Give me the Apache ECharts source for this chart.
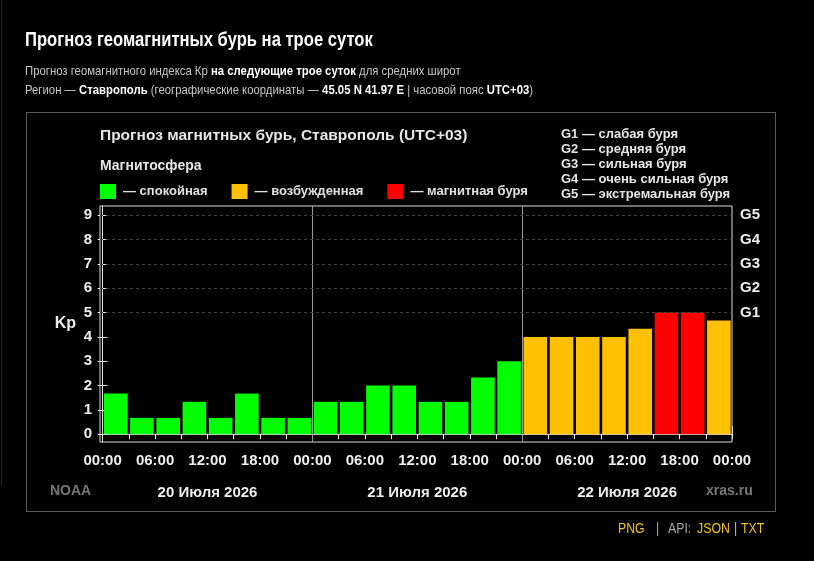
<!DOCTYPE html>
<html>
<head>
<meta charset="utf-8">
<script src="https://cdn.jsdelivr.net/npm/echarts@6/dist/echarts.min.js"></script>
<style>
  html, body { margin: 0; padding: 0; background: #000; }
  body { width: 814px; height: 561px; position: relative; overflow: hidden;
         font-family: "Liberation Sans", Arial, sans-serif; }
  #chart { position: absolute; left: 0; top: 0; width: 814px; height: 561px; }
  .abs { position: absolute; white-space: nowrap; transform-origin: 0 50%; }
  .h1 { left: 25px; top: 27px; font-size: 20px; line-height: 24px; font-weight: bold; color: #fff;
        transform: scaleX(0.83); }
  .sub { left: 25px; font-size: 13.5px; line-height: 16px; color: #c8c8c8; transform: scaleX(0.84); }
  .sub b { color: #fff; }
  .box { left: 26px; top: 112px; width: 748px; height: 398px; border: 1px solid #5a5a5a; }
  .foot { top: 520px; font-size: 14px; line-height: 16px; color: #aaa; transform: scaleX(0.88); }
  .gold { color: #f0c419; }
  .edge { left: 1px; top: 0; width: 1px; height: 486px; background: #262626; }
</style>
</head>
<body>
<div id="chart"></div>
<div class="abs edge"></div>
<div class="abs h1">Прогноз геомагнитных бурь на трое суток</div>
<div class="abs sub" style="top:63px">Прогноз геомагнитного индекса Кр <b>на следующие трое суток</b> для средних широт</div>
<div class="abs sub" style="top:82px">Регион — <b>Ставрополь</b> (географические координаты — <b>45.05 N 41.97 E</b> | часовой пояс <b>UTC+03</b>)</div>
<div class="abs box"></div>
<div class="abs foot gold" style="left:618px">PNG</div>
<div class="abs foot" style="left:656px">|</div>
<div class="abs foot" style="left:668px">API:</div>
<div class="abs foot gold" style="left:697px">JSON</div>
<div class="abs foot gold" style="left:734px">|</div>
<div class="abs foot gold" style="left:741px">TXT</div>
<script>
// прогноз Kp по трёхчасовым интервалам (3 суток * 8)
var kp = [1.67, 0.67, 0.67, 1.33, 0.67, 1.67, 0.67, 0.67,
          1.33, 1.33, 2.0, 2.0, 1.33, 1.33, 2.33, 3.0,
          4.0, 4.0, 4.0, 4.0, 4.33, 5.0, 5.0, 4.67];
var hourLabels = ['00:00', '06:00', '12:00', '18:00', '00:00', '06:00', '12:00',
                  '18:00', '00:00', '06:00', '12:00', '18:00', '00:00'];
var days = ['20 Июля 2026', '21 Июля 2026', '22 Июля 2026'];
var gLevels = ['G1', 'G2', 'G3', 'G4', 'G5'];
var gNotes = ['G1 — слабая буря', 'G2 — средняя буря', 'G3 — сильная буря',
              'G4 — очень сильная буря', 'G5 — экстремальная буря'];
var states = ['— спокойная', '— возбужденная', '— магнитная буря'];
var stateColors = ['#00ff00', '#ffc000', '#ff0000'];

function level(v) {
    if (v >= 5) return 2;
    if (v >= 4) return 1;
    return 0;
}

var font = '"Liberation Sans", Arial, sans-serif';
var range = function (a, b, s) { var r = []; for (var i = a; i <= b; i += s) r.push(i); return r; };

var myChart = echarts.init(document.getElementById('chart'));

var series = states.map(function (name, s) {
    return {
        name: name,
        type: 'bar',
        barWidth: 23.6,
        barGap: '-100%',
        itemStyle: { color: stateColors[s] },
        data: kp.map(function (v, i) {
            return level(v) === s ? [i * 3 + 1.5, v] : null;
        }),
        z: 3
    };
});
// разделители суток и пунктир уровней G
series[0].markLine = {
    silent: true,
    symbol: 'none',
    label: { show: false },
    animation: false,
    data: [
        { xAxis: 24, lineStyle: { color: '#9a9a9a', type: 'solid', width: 1 } },
        { xAxis: 48, lineStyle: { color: '#9a9a9a', type: 'solid', width: 1 } }
    ].concat(range(5, 9, 1).map(function (v) {
        return { yAxis: v, lineStyle: { color: '#444', type: [3, 3], width: 1 } };
    }))
};

var textStyleBold = { fontFamily: font, fontWeight: 'bold', fill: '#e6e6e6' };

option = {
    backgroundColor: 'transparent',
    animation: false,
    textStyle: { fontFamily: font },
    grid: {
        left: 100, top: 206, right: 82, bottom: 119,
        show: true, borderColor: '#dcdcdc', borderWidth: 1
    },
    legend: {
        left: 100,
        top: 184,
        padding: 0,
        icon: 'rect',
        itemWidth: 16,
        itemHeight: 15,
        itemGap: 24,
        textStyle: { color: '#e0e0e0', fontSize: 13, fontWeight: 'bold', fontFamily: font, padding: [0, 0, 0, 2] },
        data: states
    },
    xAxis: [
        {
            type: 'value', min: -0.3, max: 72,
            axisLine: { lineStyle: { color: '#e6e6e6' } },
            axisTick: { customValues: range(0, 72, 3), length: 5, lineStyle: { color: '#e6e6e6' } },
            axisLabel: {
                customValues: range(0, 72, 6), margin: 11,
                color: '#eeeeee', fontSize: 15, fontWeight: 'bold', fontFamily: font,
                formatter: function (v) { return hourLabels[Math.round(v / 6)]; }
            },
            splitLine: { show: false }
        },
        {
            type: 'value', min: -0.3, max: 72, position: 'bottom', offset: 40,
            axisLine: { lineStyle: { color: '#d0d0d0' } },
            axisTick: { customValues: [0, 24, 48, 72], inside: true, length: 8, lineStyle: { color: '#d0d0d0' } },
            axisLabel: {
                customValues: [12, 36, 60], margin: 3,
                color: '#eeeeee', fontSize: 15, fontWeight: 'bold', fontFamily: font,
                formatter: function (v) { return days[Math.round((v - 12) / 24)]; }
            },
            splitLine: { show: false }
        }
    ],
    yAxis: [
        {
            type: 'value', min: -0.32, max: 9.38, position: 'left',
            name: 'Kp', nameLocation: 'middle', nameGap: 24, nameRotate: 0,
            nameTextStyle: { color: '#eeeeee', fontSize: 16, fontWeight: 'bold', fontFamily: font },
            axisLine: { show: true, lineStyle: { color: '#e6e6e6' } },
            axisTick: { show: true, customValues: range(0, 9, 1), length: 5, lineStyle: { color: '#e6e6e6' } },
            axisLabel: {
                customValues: range(0, 9, 1), margin: 8,
                color: '#eeeeee', fontSize: 15, fontWeight: 'bold', fontFamily: font
            },
            splitLine: { show: false }
        },
        {
            type: 'value', min: -0.32, max: 9.38, position: 'right',
            axisLine: { show: true, lineStyle: { color: '#e6e6e6' } },
            axisTick: { show: true, customValues: range(0, 9, 1), length: 5, lineStyle: { color: '#e6e6e6' } },
            axisLabel: {
                customValues: range(5, 9, 1), margin: 8,
                color: '#eeeeee', fontSize: 15, fontWeight: 'bold', fontFamily: font,
                formatter: function (v) { return gLevels[Math.round(v) - 5]; }
            },
            splitLine: { show: false }
        }
    ],
    graphic: [
        { type: 'text', left: 100, top: 128, style: Object.assign({ text: 'Прогноз магнитных бурь, Ставрополь (UTC+03)', fontSize: 15.5 }, textStyleBold) },
        { type: 'text', left: 100, top: 159, style: Object.assign({ text: 'Магнитосфера', fontSize: 14 }, textStyleBold) },
        { type: 'text', left: 50, top: 484, style: { text: 'NOAA', fontSize: 14, fontWeight: 'bold', fontFamily: font, fill: '#777' } },
        { type: 'text', left: 706, top: 484, style: { text: 'xras.ru', fontSize: 14, fontWeight: 'bold', fontFamily: font, fill: '#777' } }
    ].concat(gNotes.map(function (t, i) {
        return { type: 'text', left: 561, top: 127.5 + i * 15.1, style: Object.assign({ text: t, fontSize: 13 }, textStyleBold) };
    })),
    series: series
};
myChart.setOption(option);
</script>
</body>
</html>
